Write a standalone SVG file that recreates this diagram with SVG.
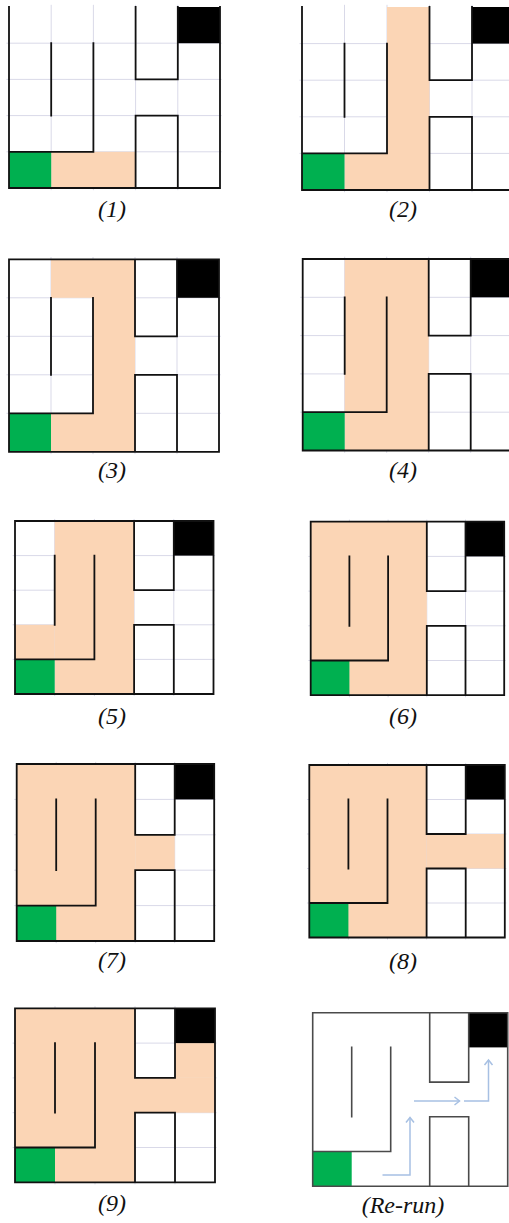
<svg xmlns="http://www.w3.org/2000/svg" xmlns:xlink="http://www.w3.org/1999/xlink" width="509" height="1223" viewBox="0 0 509 1223">
  <style>
    .grid { stroke: #d9d9e8; stroke-width: 1; }
    .wall { fill: none; stroke: #111; stroke-width: 1.8; stroke-linecap: square; }
    .wall-soft { fill: none; stroke: #4a4a4a; stroke-width: 1.6; stroke-linecap: square; }
    .path { fill: #fbd5b5; }
    .start { fill: #00b050; }
    .goal { fill: #000; }
    .label { font-style: italic; font-size: 24px; fill: #111; text-anchor: middle; }
    .arrow { fill: none; stroke: #a7c0e3; stroke-width: 1.5; marker-end: url(#chevron); }
  </style>
  <defs>
    <marker id="chevron" markerUnits="userSpaceOnUse" markerWidth="12" markerHeight="12" refX="6" refY="6" orient="auto" viewBox="0 0 12 12">
      <path d="M1,2 L6,6 L1,10" fill="none" stroke="#a7c0e3" stroke-width="1.5"/>
    </marker>
    <!-- 5x5 maze drawn in cell units; each panel scales it to its own cell size -->
    <path id="grid" vector-effect="non-scaling-stroke" fill="none"
          d="M-0.06,1 H5.04 M-0.06,2 H5.04 M-0.06,3 H5.04 M-0.06,4 H5.04
             M1,-0.06 V5.06 M2,-0.06 V5.06 M3,-0.06 V5.06 M4,-0.06 V5.06"/>
    <g id="ends">
      <rect class="start" x="0" y="4" width="1" height="1"/>
      <rect class="goal" x="4" y="0" width="1" height="1"/>
    </g>
    <path id="walls-open" vector-effect="non-scaling-stroke"
          d="M0,0 V5 H5 V0 M1,1 V3 M0,4 H2 V1 M3,0 V2 H4 V0 M3,5 V3 H4 V5"/>
    <path id="walls-closed" vector-effect="non-scaling-stroke"
          d="M0,0 V5 H5 V0 Z M1,1 V3 M0,4 H2 V1 M3,0 V2 H4 V0 M3,5 V3 H4 V5"/>
  </defs>

  <g font-family="Liberation Serif, serif">
  <!-- step 1 -->
  <g id="panel-1">
    <g transform="translate(9 7) scale(42.2 36.2)">
      <use href="#grid" class="grid"/>
      <rect class="path" x="1" y="4" width="2" height="1"/>
      <use href="#ends"/>
      <use href="#walls-open" class="wall"/>
    </g>
    <text class="label" x="112" y="217">(1)</text>
  </g>

  <!-- step 2 -->
  <g id="panel-2">
    <g transform="translate(302 7) scale(42.5 36.6)">
      <use href="#grid" class="grid"/>
      <rect class="path" x="2" y="0" width="1" height="5"/>
      <rect class="path" x="1" y="4" width="1" height="1"/>
      <use href="#ends"/>
      <use href="#walls-open" class="wall"/>
    </g>
    <text class="label" x="403" y="217">(2)</text>
  </g>

  <!-- step 3 -->
  <g id="panel-3">
    <g transform="translate(9 259.3) scale(42 38.5)">
      <use href="#grid" class="grid"/>
      <rect class="path" x="2" y="0" width="1" height="5"/>
      <rect class="path" x="1" y="0" width="1" height="1"/>
      <rect class="path" x="1" y="4" width="1" height="1"/>
      <use href="#ends"/>
      <use href="#walls-closed" class="wall"/>
    </g>
    <text class="label" x="112" y="478">(3)</text>
  </g>

  <!-- step 4 -->
  <g id="panel-4">
    <g transform="translate(302.7 259) scale(42 38.3)">
      <use href="#grid" class="grid"/>
      <rect class="path" x="1" y="0" width="2" height="5"/>
      <use href="#ends"/>
      <use href="#walls-closed" class="wall"/>
    </g>
    <text class="label" x="403" y="478">(4)</text>
  </g>

  <!-- step 5 -->
  <g id="panel-5">
    <g transform="translate(15 521) scale(39.7 34.6)">
      <use href="#grid" class="grid"/>
      <rect class="path" x="1" y="0" width="2" height="5"/>
      <rect class="path" x="0" y="3" width="1" height="1"/>
      <use href="#ends"/>
      <use href="#walls-closed" class="wall"/>
    </g>
    <text class="label" x="112" y="724">(5)</text>
  </g>

  <!-- step 6 -->
  <g id="panel-6">
    <g transform="translate(310.7 521.7) scale(38.7 34.7)">
      <use href="#grid" class="grid"/>
      <rect class="path" x="0" y="0" width="3" height="5"/>
      <use href="#ends"/>
      <use href="#walls-closed" class="wall"/>
    </g>
    <text class="label" x="403" y="724">(6)</text>
  </g>

  <!-- step 7 -->
  <g id="panel-7">
    <g transform="translate(16.7 764) scale(39.5 35.4)">
      <use href="#grid" class="grid"/>
      <rect class="path" x="0" y="0" width="3" height="5"/>
      <rect class="path" x="3" y="2" width="1" height="1"/>
      <use href="#ends"/>
      <use href="#walls-closed" class="wall"/>
    </g>
    <text class="label" x="112" y="968">(7)</text>
  </g>

  <!-- step 8 -->
  <g id="panel-8">
    <g transform="translate(309.3 765) scale(39.1 34.5)">
      <use href="#grid" class="grid"/>
      <rect class="path" x="0" y="0" width="3" height="5"/>
      <rect class="path" x="3" y="2" width="2" height="1"/>
      <use href="#ends"/>
      <use href="#walls-closed" class="wall"/>
    </g>
    <text class="label" x="403" y="969">(8)</text>
  </g>

  <!-- step 9 -->
  <g id="panel-9">
    <g transform="translate(15 1008.3) scale(40 34.8)">
      <use href="#grid" class="grid"/>
      <rect class="path" x="0" y="0" width="3" height="5"/>
      <rect class="path" x="3" y="2" width="2" height="1"/>
      <rect class="path" x="4" y="1" width="1" height="1"/>
      <use href="#ends"/>
      <use href="#walls-closed" class="wall"/>
    </g>
    <text class="label" x="112" y="1211">(9)</text>
  </g>

  <!-- re-run: plain maze with the learned route -->
  <g id="panel-rerun">
    <g transform="translate(312.7 1012.7) scale(39 34.7)">
      <use href="#ends"/>
      <use href="#walls-closed" class="wall-soft"/>
    </g>
    <text class="label" x="403" y="1213">(Re-run)</text>
  </g>
  </g>

  <g id="connectors">
    <path class="arrow" d="M382.5,1175 H410 V1117.5"/>
    <path class="arrow" d="M414,1101 H459.5"/>
    <path class="arrow" d="M464,1101 H488.5 V1060"/>
  </g>
</svg>
